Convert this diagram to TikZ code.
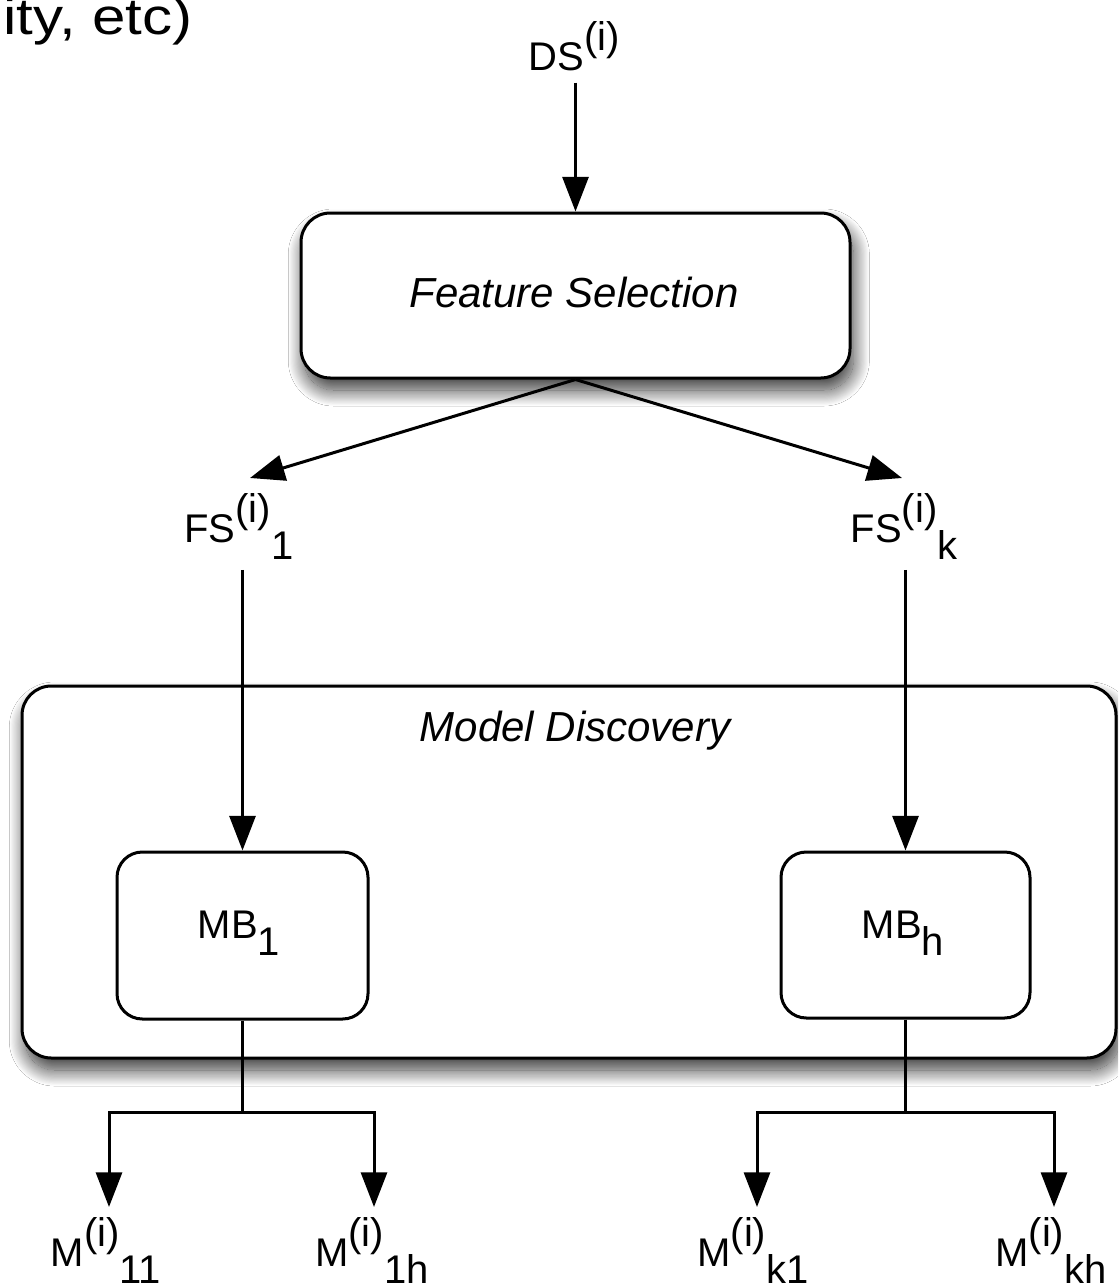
\documentclass[tikz,border=0pt]{standalone}
\usepackage{fontspec}
\usepackage{graphicx}
\setmainfont{Liberation Sans}
\usetikzlibrary{arrows.meta,shadows.blur}
\newcommand{\mysup}[1]{\raisebox{15pt}{#1}}
\newcommand{\mysub}[1]{\raisebox{-12.75pt}{#1}}
\tikzset{
  ln/.style={line width=2.25pt, line join=miter},
  arr/.style={ln, -{Triangle[length=26pt,width=19.5pt]}},
  lbl/.style={inner sep=0pt, anchor=base, font=\fontsize{30}{36}\selectfont},
  ttl/.style={inner sep=0pt, anchor=base, font=\fontsize{31.5}{36}\selectfont\itshape},
  bigbox/.style={draw, line width=2.25pt, rounded corners=22pt, fill=white, inner sep=0pt,
     blur shadow={shadow xshift=2.5pt, shadow yshift=-9pt, shadow blur radius=12pt, shadow blur steps=30, shadow opacity=80}},
  mbbox/.style={draw, line width=2.25pt, rounded corners=19pt, fill=white, inner sep=0pt},
}
\begin{document}
\begin{tikzpicture}[x=0.75pt, y=-0.75pt]
\useasboundingbox (0,0) rectangle (1118,1285);
\fill[white] (0,0) rectangle (1118,1285);
\clip (0,0) rectangle (1118,1285);

\node[anchor=base east, inner sep=0pt, font=\fontsize{38.5}{40}\selectfont] (note) at (193,34) {\scalebox{1.17}[1]{ity, etc)}};

\node[lbl] (ds) at (574,70) {DS\mysup{(i)}};
\node[bigbox, minimum width=411.75pt, minimum height=123.75pt] (fs) at (575.5,295.5) {};
\node[ttl] (fstxt) at (574,307) {Feature Selection};

\node[bigbox, minimum width=820.5pt, minimum height=279pt] (md) at (569,872) {};
\node[ttl] (mdtxt) at (575,741) {Model Discovery};

\node[lbl] (fs1) at (239,542) {FS\mysup{(i)}\mysub{1}};
\node[lbl] (fsk) at (904,542) {FS\mysup{(i)}\mysub{k}};

\node[mbbox, minimum width=188.25pt, minimum height=125.25pt] (mb1) at (242.5,935.5) {};
\node[lbl] (mb1txt) at (239,938) {MB\mysub{1}};
\node[mbbox, minimum width=186.75pt, minimum height=124.5pt] (mbh) at (905.5,935) {};
\node[lbl] (mbhtxt) at (903,938) {MB\mysub{h}};

\node[lbl] (m11) at (106,1266) {M\mysup{(i)}\mysub{11}};
\node[lbl] (m1h) at (372,1266) {M\mysup{(i)}\mysub{1h}};
\node[lbl] (mk1) at (753,1266) {M\mysup{(i)}\mysub{k1}};
\node[lbl] (mkh) at (1051,1266) {M\mysup{(i)}\mysub{kh}};

\coordinate (t1) at (250,478);
\coordinate (tk) at (902,478);
\coordinate (j1) at (242.5,1112);
\coordinate (jh) at (905.5,1112);
\coordinate (e11) at (109,1207);
\coordinate (e1h) at (374,1207);
\coordinate (ek1) at (757,1207);
\coordinate (ekh) at (1054,1207);

\draw[arr, shorten <=9pt] (ds.south -| fs.north) -- (fs.north);
\draw[arr] (fs.south) -- (t1);
\draw[arr] (fs.south) -- (tk);
\draw[arr, shorten <=8pt] (fs1.south -| mb1.north) -- (mb1.north);
\draw[arr, shorten <=8pt] (fsk.south -| mbh.north) -- (mbh.north);
\draw[ln] (mb1.south) -- (j1);
\draw[arr] (j1) -| (e11);
\draw[arr] (j1) -| (e1h);
\draw[ln] (mbh.south) -- (jh);
\draw[arr] (jh) -| (ek1);
\draw[arr] (jh) -| (ekh);
\end{tikzpicture}
\end{document}
